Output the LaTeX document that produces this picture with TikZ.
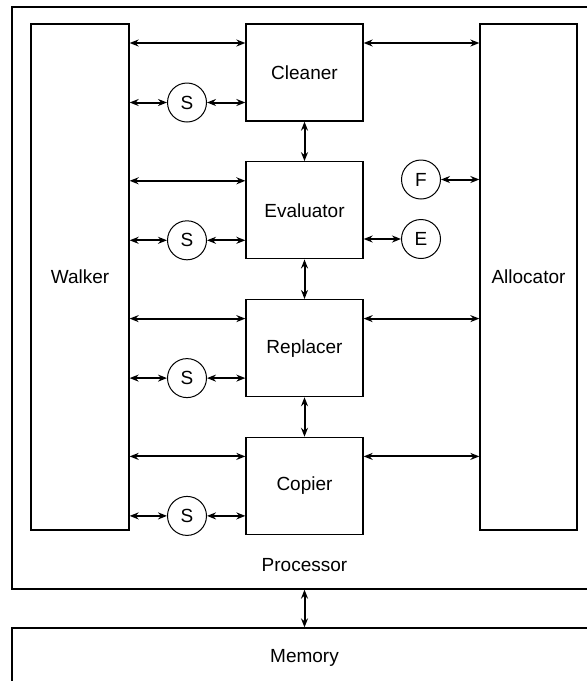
\documentclass[tikz,border=0pt]{standalone}
\usepackage{fontspec}
\setmainfont{Liberation Sans}
\usetikzlibrary{arrows.meta,calc,positioning}

\begin{document}
\begin{tikzpicture}[
  x=1pt,y=-1pt,
  font=\fontsize{19}{22}\selectfont,
  >={Stealth[length=9pt,width=7pt]},
  box/.style   ={draw,rectangle,line width=1.3pt,inner sep=0pt,align=center},
  unit/.style  ={box,minimum width=117pt,minimum height=97pt},
  side/.style  ={box,minimum width=98pt,minimum height=506pt},
  sig/.style   ={draw,circle,line width=1pt,minimum size=39pt,inner sep=0pt},
  arrow/.style ={<->,line width=2pt},
]

%% ===== Page ==================================================================
\useasboundingbox (0,0) rectangle (587,681);
\clip (0,0) rectangle (587,681);

%% ===== Processor and memory ==================================================
\node[box,minimum width=588pt,minimum height=582pt] (proc) at (306,298) {};
\node (proclbl) at (304.5,565) {Processor};
\node[box,minimum width=588pt,minimum height=80pt] (mem) at (306,668) {};
\node (memlbl) at (304.5,658) {Memory};

%% ===== Side blocks ===========================================================
\node[side] (walker) at (80,277)    {Walker};
\node[side,minimum width=97pt] (alloc) at (528.5,277) {Allocator};

%% ===== Units =================================================================
\node[unit] (clean) at (304.5,72.5)        {Cleaner};
\node[unit,below=39.5pt of clean] (eval)   {Evaluator};
\node[unit,below=39.5pt of eval]  (repl)   {Replacer};
\node[unit,below=39.5pt of repl]  (copy)   {Copier};

\foreach \n in {clean,eval,repl,copy} {
  \coordinate (\n-in) at ($(\n.west)+(0,-29.5)$);
  \node[sig] (s-\n) at ($(\n.center)+(-117.5,30)$) {S};
  \draw[arrow] (\n-in -| walker.east) -- (\n-in);
  \draw[arrow] (s-\n.west -| walker.east) -- (s-\n.west);
  \draw[arrow] (s-\n.east) -- (s-\n.east -| \n.west);
}

\foreach \n in {clean,repl,copy} {
  \draw[arrow] (\n.east |- \n-in) -- (alloc.west |- \n-in);
}

\foreach \a/\b in {clean/eval, eval/repl, repl/copy} {
  \draw[arrow] (\a.south) -- (\b.north);
}

%% ===== F and E ===============================================================
\node[sig] (fin) at (421,179.5) {F};
\node[sig] (ein) at (421,239)   {E};
\draw[arrow] (fin.east) -- (fin.east -| alloc.west);
\draw[arrow] (ein.west -| eval.east) -- (ein.west);

%% ===== Processor <-> memory ==================================================
\draw[arrow] (proclbl.center |- proc.south) -- (proclbl.center |- mem.north);

\end{tikzpicture}
\end{document}
